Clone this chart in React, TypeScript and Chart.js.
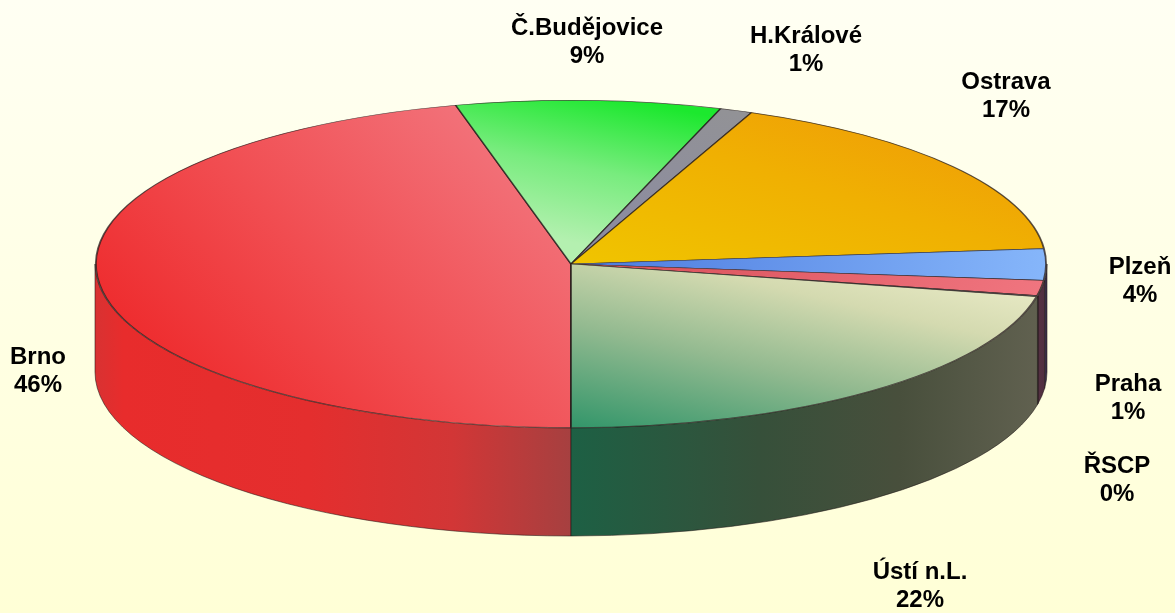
import React, { useEffect, useRef } from "react";
import { Chart, registerables } from "chart.js";

Chart.register(...registerables);

const categories = ["Brno", "Č.Budějovice", "H.Králové", "Ostrava", "Plzeň", "Praha", "ŘSCP", "Ústí n.L."];
const shares = [46.1, 9.0, 1.1, 17.3, 3.1, 1.5, 0.1, 21.8];
const percentLabels = ["46%", "9%", "1%", "17%", "4%", "1%", "0%", "22%"];

// screen placement of the pie and of the labels
const PIE = { cx: 571, cy: 264, rx: 476, ry: 164, depth: 108 };
const labelCentres = [
  [38, 357], [587, 28], [806, 36], [1006, 82], [1140, 267], [1128, 384], [1117, 466], [920, 572],
];
const LINE_GAP = 28;
const LABEL_FONT = "bold 24px 'Liberation Sans', Arial, sans-serif";

type Stop = [number, string];
type Grad = { from: [number, number]; to: [number, number]; stops: Stop[] };

const topFills: Grad[] = [
  { from: [95, 300], to: [600, 240], stops: [[0, "#ee2c2e"], [0.45, "#f14c50"], [1, "#f2727a"]] },
  { from: [510, 230], to: [705, 115], stops: [[0, "#b4f0b0"], [0.5, "#78ec7e"], [1, "#1ce82e"]] },
  { from: [580, 260], to: [750, 115], stops: [[0, "#8a8aa2"], [1, "#929296"]] },
  { from: [600, 270], to: [1000, 120], stops: [[0, "#f0c400"], [0.55, "#f0b002"], [1, "#ef9b08"]] },
  { from: [600, 265], to: [1047, 265], stops: [[0, "#4f7ee0"], [1, "#86b6fa"]] },
  { from: [600, 270], to: [1040, 290], stops: [[0, "#d9505a"], [1, "#f0757f"]] },
  { from: [600, 270], to: [1040, 297], stops: [[0, "#999"], [1, "#999"]] },
  { from: [585, 430], to: [930, 250], stops: [[0, "#33966a"], [0.4, "#93ba90"], [0.72, "#d4dab0"], [1, "#eeeecb"]] },
];

const wallFills: Grad[] = [
  { from: [95, 0], to: [571, 0], stops: [[0, "#d83232"], [0.06, "#e82c2c"], [0.45, "#e42e2e"], [0.75, "#d23636"], [1, "#a64040"]] },
  { from: [0, 0], to: [1, 0], stops: [[0, "#888"], [1, "#888"]] },
  { from: [0, 0], to: [1, 0], stops: [[0, "#666"], [1, "#666"]] },
  { from: [0, 0], to: [1, 0], stops: [[0, "#a07000"], [1, "#a07000"]] },
  { from: [1030, 0], to: [1047, 0], stops: [[0, "#4a3a58"], [1, "#3a3048"]] },
  { from: [1030, 0], to: [1047, 0], stops: [[0, "#5a3544"], [1, "#4e2e40"]] },
  { from: [1030, 0], to: [1047, 0], stops: [[0, "#444"], [1, "#444"]] },
  { from: [571, 0], to: [1040, 0], stops: [[0, "#1d6044"], [0.4, "#36503a"], [0.7, "#484f3c"], [1, "#616150"]] },
];

function makeGradient(ctx: CanvasRenderingContext2D, g: Grad, map: (p: [number, number]) => [number, number]) {
  const a = map(g.from);
  const b = map(g.to);
  const lg = ctx.createLinearGradient(a[0], a[1], b[0], b[1]);
  g.stops.forEach(([o, c]) => lg.addColorStop(o, c));
  return lg;
}

function chartFrame(chart: any) {
  const { left, right, top, bottom } = chart.chartArea;
  const x = (left + right) / 2;
  const y = (top + bottom) / 2;
  const r = Math.min(right - left, bottom - top) / 2;
  return { x, y, r, sx: PIE.rx / r, sy: PIE.ry / r };
}

const squashPlugin = {
  id: "squash3d",
  beforeDatasetsDraw(chart: any) {
    const ctx: CanvasRenderingContext2D = chart.ctx;
    const arcs = chart.getDatasetMeta(0).data;
    const { cx, cy, rx, ry, depth } = PIE;
    const same = (p: [number, number]) => p;
    ctx.save();
    arcs.forEach((arc: any, i: number) => {
      const ranges: [number, number][] = [];
      for (const off of [-2 * Math.PI, 0, 2 * Math.PI]) {
        const a = Math.max(arc.startAngle, off);
        const b = Math.min(arc.endAngle, off + Math.PI);
        if (b > a) ranges.push([a, b]);
      }
      ranges.forEach(([a, b]) => {
        ctx.beginPath();
        ctx.ellipse(cx, cy, rx, ry, 0, a, b);
        ctx.ellipse(cx, cy + depth, rx, ry, 0, b, a, true);
        ctx.closePath();
        ctx.fillStyle = makeGradient(ctx, wallFills[i], same);
        ctx.fill();
        ctx.lineWidth = 1;
        ctx.strokeStyle = "rgba(30,20,20,0.55)";
        ctx.stroke();
      });
    });
    ctx.restore();

    const f = chartFrame(chart);
    ctx.save();
    ctx.translate(cx, cy);
    ctx.scale(f.sx, f.sy);
    ctx.translate(-f.x, -f.y);
  },
  afterDatasetsDraw(chart: any) {
    chart.ctx.restore();
  },
  afterDraw(chart: any) {
    const ctx: CanvasRenderingContext2D = chart.ctx;
    ctx.save();
    ctx.fillStyle = "#000";
    ctx.font = LABEL_FONT;
    ctx.textAlign = "center";
    ctx.textBaseline = "middle";
    categories.forEach((name, i) => {
      const [x, y] = labelCentres[i];
      ctx.fillText(name, x, y);
      ctx.fillText(percentLabels[i], x, y + LINE_GAP);
    });
    ctx.restore();
  },
};

export default function App() {
  const ref = useRef<HTMLCanvasElement>(null);
  useEffect(() => {
    const chart = new Chart(ref.current as HTMLCanvasElement, {
      type: "pie",
      plugins: [squashPlugin],
      data: {
        labels: categories,
        datasets: [
          {
            data: shares,
            backgroundColor: (c: any) => {
              const ch = c.chart;
              if (!ch.chartArea) return "#ccc";
              const f = chartFrame(ch);
              const map = (p: [number, number]): [number, number] => [
                f.x + (p[0] - PIE.cx) / f.sx,
                f.y + (p[1] - PIE.cy) / f.sy,
              ];
              return makeGradient(ch.ctx, topFills[c.dataIndex], map);
            },
            borderColor: "rgba(35,25,25,0.75)",
            borderWidth: 1.2,
            hoverOffset: 0,
          },
        ],
      },
      options: {
        responsive: false,
        animation: false,
        rotation: 180,
        layout: { padding: 0 },
        events: [],
        plugins: { legend: { display: false }, tooltip: { enabled: false } },
      },
    } as any);
    return () => chart.destroy();
  }, []);
  return (
    <div
      style={{
        position: "absolute",
        left: 0,
        top: 0,
        width: 1175,
        height: 613,
        background: "linear-gradient(to bottom, #fffff3, #ffffd6)",
      }}
    >
      <canvas ref={ref} width={1175} height={613} style={{ display: "block" }} />
    </div>
  );
}
